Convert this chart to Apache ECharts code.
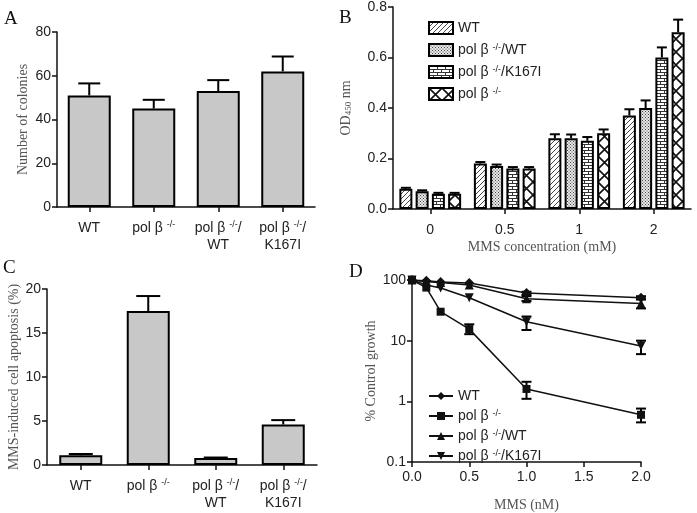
<!DOCTYPE html>
<html><head><meta charset="utf-8">
<script src="https://cdn.jsdelivr.net/npm/echarts@6/dist/echarts.min.js"></script>
<style>html,body{margin:0;padding:0;background:#fff}#c{width:697px;height:513px}</style>
</head><body><div id="c"></div>
<script>
// ---------- data ----------
const cellLines = ['WT', 'pol β {s|-/-}', 'pol β {s|-/-}/\nWT', 'pol β {s|-/-}/\nK167I'];
const colonies = [51, 45, 53, 62];
const coloniesErr = [5.5, 4, 5, 6.8];
const apoptosis = [1.1, 17.5, 0.8, 4.6];
const apoptosisErr = [0.15, 1.7, 0.05, 0.5];

const mmsConc = ['0', '0.5', '1', '2'];
const bNames = ['WT', 'pol β {s|-/-}/WT', 'pol β {s|-/-}/K167I', 'pol β {s|-/-}'];
const odWT = [0.08, 0.18, 0.28, 0.37];
const odPolWT = [0.07, 0.17, 0.28, 0.40];
const odK167I = [0.06, 0.16, 0.27, 0.60];
const odPol = [0.06, 0.16, 0.30, 0.70];
const odWTErr = [0.004, 0.006, 0.016, 0.025];
const odPolWTErr = [0.004, 0.006, 0.015, 0.03];
const odK167IErr = [0.004, 0.006, 0.015, 0.04];
const odPolErr = [0.004, 0.006, 0.015, 0.05];

const mmsDose = [0, 0.125, 0.25, 0.5, 1.0, 2.0];
const dNames = ['WT', 'pol β {s|-/-}', 'pol β {s|-/-}/WT', 'pol β {s|-/-}/K167I'];
const growthWT = [100, 97, 93, 89, 61, 51];
const growthWTLo = [100, 97, 93, 89, 57, 48];
const growthWTHi = [100, 97, 93, 89, 64, 54];
const growthPol = [100, 75, 30, 15.5, 1.6, 0.6];
const growthPolLo = [100, 75, 30, 12.8, 1.1, 0.45];
const growthPolHi = [100, 75, 30, 18.6, 2.1, 0.76];
const growthPolWT = [100, 94, 91, 83, 49, 41];
const growthPolWTLo = [100, 94, 91, 83, 45, 34];
const growthPolWTHi = [100, 94, 91, 83, 54, 48];
const growthK = [100, 83, 74, 51, 20.5, 8.2];
const growthKLo = [100, 83, 74, 51, 15, 6];
const growthKHi = [100, 83, 74, 51, 25, 10];

// ---------- styles ----------
const SANS = '"Liberation Sans", Arial, sans-serif';
const SERIF = '"Liberation Serif", "Times New Roman", serif';
const richSup = {
  s: { fontSize: 9, verticalAlign: 'top', lineHeight: 9, fontFamily: SANS, color: '#222' }
};

function pattern(kind) {
  const c = document.createElement('canvas');
  const g = c.getContext('2d');
  if (kind === 'diag') {
    c.width = 5; c.height = 5;
    g.fillStyle = '#fff'; g.fillRect(0, 0, 5, 5);
    g.strokeStyle = '#333'; g.lineWidth = 0.9;
    g.beginPath();
    g.moveTo(-1, 6); g.lineTo(6, -1);
    g.moveTo(-1, 1); g.lineTo(1, -1);
    g.moveTo(4, 6); g.lineTo(6, 4);
    g.stroke();
  } else if (kind === 'dots') {
    c.width = 3; c.height = 3;
    g.fillStyle = '#e8e8e8'; g.fillRect(0, 0, 3, 3);
    g.fillStyle = '#444'; g.fillRect(0, 0, 1, 1); g.fillRect(1.5, 1.5, 1, 1);
  } else if (kind === 'brick') {
    c.width = 8; c.height = 6;
    g.fillStyle = '#fff'; g.fillRect(0, 0, 8, 6);
    g.fillStyle = '#333';
    g.fillRect(0, 0, 8, 1); g.fillRect(0, 3, 8, 1);
    g.fillRect(0, 0, 1, 3); g.fillRect(4, 3, 1, 3);
  } else {
    c.width = 13; c.height = 13;
    g.fillStyle = '#fff'; g.fillRect(0, 0, 13, 13);
    g.strokeStyle = '#111'; g.lineWidth = 1.6;
    g.beginPath();
    g.moveTo(0, 0); g.lineTo(13, 13);
    g.moveTo(0, 13); g.lineTo(13, 0);
    g.stroke();
  }
  return { image: c, repeat: 'repeat' };
}
const bFills = [pattern('diag'), pattern('dots'), pattern('brick'), pattern('cross')];

const axisLine = { show: true, lineStyle: { color: '#111', width: 1.5 } };
const axisTick = { show: true, length: 5, lineStyle: { color: '#111', width: 1.5 } };
const tickLabel = { color: '#222', fontSize: 14, fontFamily: SANS };
const nameStyle = { color: '#555', fontSize: 14, fontFamily: SERIF };

function catAxis(grid, data, extra) {
  return Object.assign({
    type: 'category', gridIndex: grid, data: data,
    axisLine: axisLine,
    axisTick: Object.assign({ alignWithLabel: true }, axisTick),
    axisLabel: Object.assign({ margin: 13, lineHeight: 17, interval: 0, rich: richSup }, tickLabel),
    splitLine: { show: false }
  }, extra || {});
}
function valAxis(grid, min, max, interval, extra) {
  return Object.assign({
    type: 'value', gridIndex: grid, min: min, max: max, interval: interval,
    axisLine: axisLine, axisTick: axisTick,
    axisLabel: Object.assign({ margin: 6 }, tickLabel),
    splitLine: { show: false },
    nameLocation: 'middle', nameTextStyle: nameStyle
  }, extra || {});
}

function barErrSeries(xi, yi, vals, errs, offset, capW) {
  return {
    type: 'custom', xAxisIndex: xi, yAxisIndex: yi, z: 1, silent: true,
    data: vals.map((v, i) => [i, v, errs[i]]),
    renderItem: function (params, api) {
      const p0 = api.coord([api.value(0), api.value(1)]);
      const p1 = api.coord([api.value(0), api.value(1) + api.value(2)]);
      const cx = p0[0] + offset;
      const st = { stroke: '#000', lineWidth: 2 };
      return { type: 'group', children: [
        { type: 'line', shape: { x1: cx, y1: p0[1], x2: cx, y2: p1[1] }, style: st },
        { type: 'line', shape: { x1: cx - capW / 2, y1: p1[1], x2: cx + capW / 2, y2: p1[1] }, style: st }
      ] };
    }
  };
}

function lineErrSeries(lo, hi) {
  const data = [];
  mmsDose.forEach((x, i) => { if (hi[i] > lo[i]) data.push([x, lo[i], hi[i]]); });
  return {
    type: 'custom', xAxisIndex: 3, yAxisIndex: 3, z: 3, silent: true,
    data: data,
    renderItem: function (params, api) {
      const a = api.coord([api.value(0), api.value(1)]);
      const b = api.coord([api.value(0), api.value(2)]);
      const st = { stroke: '#000', lineWidth: 2 };
      const w = 5;
      return { type: 'group', children: [
        { type: 'line', shape: { x1: a[0], y1: a[1], x2: b[0], y2: b[1] }, style: st },
        { type: 'line', shape: { x1: a[0] - w, y1: a[1], x2: a[0] + w, y2: a[1] }, style: st },
        { type: 'line', shape: { x1: b[0] - w, y1: b[1], x2: b[0] + w, y2: b[1] }, style: st }
      ] };
    }
  };
}

const barW = 13, barGapRatio = 0.25;
const bVals = [odWT, odPolWT, odK167I, odPol];
const bErrs = [odWTErr, odPolWTErr, odK167IErr, odPolErr];

const series = [];
// A
series.push({ type: 'bar', xAxisIndex: 0, yAxisIndex: 0, data: colonies, barWidth: 43, z: 2,
  itemStyle: { color: '#c8c8c8', borderColor: '#000', borderWidth: 2 } });
series.push(barErrSeries(0, 0, colonies, coloniesErr, 0, 22));
// B
bVals.forEach((vals, k) => {
  series.push({ type: 'bar', name: 'B' + k, xAxisIndex: 1, yAxisIndex: 1, data: vals,
    barWidth: barW, barGap: (barGapRatio * 100) + '%', z: 2,
    itemStyle: { color: bFills[k], borderColor: '#000', borderWidth: 2 } });
});
bVals.forEach((vals, k) => {
  series.push(barErrSeries(1, 1, vals, bErrs[k], (k - 1.5) * barW * (1 + barGapRatio), 10));
});
// C
series.push({ type: 'bar', xAxisIndex: 2, yAxisIndex: 2, data: apoptosis, barWidth: 43, z: 2,
  itemStyle: { color: '#c8c8c8', borderColor: '#000', borderWidth: 2 } });
series.push(barErrSeries(2, 2, apoptosis, apoptosisErr, 0, 24));
// D
const dVals = [growthWT, growthPol, growthPolWT, growthK];
const dLo = [growthWTLo, growthPolLo, growthPolWTLo, growthKLo];
const dHi = [growthWTHi, growthPolHi, growthPolWTHi, growthKHi];
const dSymbols = ['diamond', 'rect', 'triangle', 'path://M0,0 L10,0 L5,10 Z'];
const dSizes = [10, 8, 9, 9];
dVals.forEach((vals, k) => {
  series.push({ type: 'line', name: 'D' + k, xAxisIndex: 3, yAxisIndex: 3,
    data: mmsDose.map((x, i) => [x, vals[i]]),
    symbol: dSymbols[k], symbolSize: dSizes[k], showSymbol: true, z: 4,
    lineStyle: { color: '#111', width: 1.5 }, itemStyle: { color: '#111' } });
  series.push(lineErrSeries(dLo[k], dHi[k]));
});

const option = {
  backgroundColor: '#fff',
  animation: false,
  grid: [
    { left: 57, top: 32, width: 258, height: 175 },
    { left: 393, top: 7, width: 298, height: 202 },
    { left: 47, top: 289, width: 270, height: 176 },
    { left: 412, top: 280, width: 229, height: 189 }
  ],
  xAxis: [
    catAxis(0, cellLines),
    catAxis(1, mmsConc, { name: 'MMS concentration (mM)', nameLocation: 'middle', nameGap: 31, nameTextStyle: nameStyle }),
    catAxis(2, cellLines),
    { type: 'value', gridIndex: 3, min: 0, max: 2, interval: 0.5,
      axisLine: axisLine, axisTick: axisTick,
      axisLabel: Object.assign({ margin: 8, formatter: v => v.toFixed(1) }, tickLabel),
      splitLine: { show: false },
      name: 'MMS (nM)', nameLocation: 'middle', nameGap: 36, nameTextStyle: nameStyle }
  ],
  yAxis: [
    valAxis(0, 0, 80, 20, { name: 'Number of colonies', nameGap: 27 }),
    valAxis(1, 0, 0.8, 0.2, { name: 'OD{sub|450} nm', nameGap: 40,
      nameTextStyle: Object.assign({ rich: { sub: { fontSize: 9, verticalAlign: 'bottom', color: '#555', fontFamily: SERIF } } }, nameStyle),
      axisLabel: Object.assign({ margin: 6, formatter: v => v.toFixed(1) }, tickLabel) }),
    valAxis(2, 0, 20, 5, { name: 'MMS-induced cell apoptosis (%)', nameGap: 21 }),
    { type: 'log', logBase: 10, gridIndex: 3, min: 0.1, max: 100,
      axisLine: axisLine, axisTick: axisTick,
      axisLabel: Object.assign({ margin: 6, formatter: v => String(+v.toPrecision(3)) }, tickLabel),
      splitLine: { show: false }, minorTick: { show: false },
      name: '% Control growth', nameLocation: 'middle', nameGap: 24, nameTextStyle: nameStyle }
  ],
  legend: [
    { data: ['B0', 'B1', 'B2', 'B3'], orient: 'vertical', left: 423, top: 16,
      itemWidth: 24, itemHeight: 12, itemGap: 8, selectedMode: false, icon: 'rect',
      itemStyle: { borderColor: '#000', borderWidth: 2 },
      formatter: n => bNames[+n.slice(1)],
      textStyle: { color: '#222', fontSize: 14, fontFamily: SANS, lineHeight: 14, rich: richSup } },
    { data: ['D0', 'D1', 'D2', 'D3'], orient: 'vertical', left: 423, top: 384,
      itemWidth: 24, itemHeight: 10, itemGap: 6, selectedMode: false,
      formatter: n => dNames[+n.slice(1)],
      textStyle: { color: '#222', fontSize: 14, fontFamily: SANS, lineHeight: 14, rich: richSup } }
  ],
  graphic: [
    { type: 'text', left: 4, top: 10, style: { text: 'A', font: '19px ' + SERIF, fill: '#111' } },
    { type: 'text', left: 339, top: 9, style: { text: 'B', font: '19px ' + SERIF, fill: '#111' } },
    { type: 'text', left: 3, top: 259, style: { text: 'C', font: '19px ' + SERIF, fill: '#111' } },
    { type: 'text', left: 349, top: 263, style: { text: 'D', font: '19px ' + SERIF, fill: '#111' } }
  ],
  series: series
};
const chart = echarts.init(document.getElementById('c'), null, { renderer: 'canvas' });
chart.setOption(option);
</script></body></html>
